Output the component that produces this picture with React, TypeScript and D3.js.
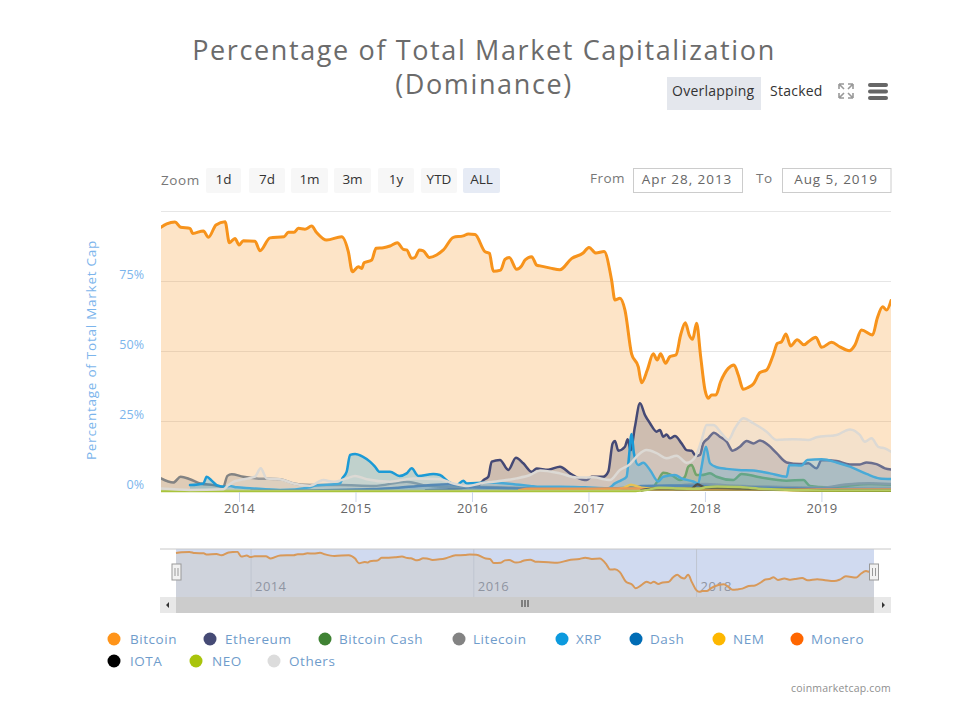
import React from "react";
import * as d3 from "d3";

type P = [number, number];

const bitcoin: P[] = [[2013.326,94.2],[2013.375,95.4],[2013.446,96.1],[2013.495,94.2],[2013.575,93.8],[2013.598,92],[2013.69,92.9],[2013.733,90.6],[2013.798,95],[2013.876,96.2],[2013.913,88.7],[2013.961,90.2],[2013.996,87.9],[2014.033,89.4],[2014.133,89.2],[2014.176,85.8],[2014.262,90.4],[2014.382,90.8],[2014.419,92.4],[2014.468,92.4],[2014.505,93.8],[2014.562,93.5],[2014.619,94.6],[2014.662,92.3],[2014.748,89.6],[2014.877,90.8],[2014.934,85.5],[2014.969,78.3],[2015.02,80.1],[2015.049,79.5],[2015.069,81.5],[2015.135,82.5],[2015.172,86.7],[2015.235,86.9],[2015.292,87.5],[2015.355,88.7],[2015.406,86.3],[2015.435,86.1],[2015.478,83.1],[2015.506,83.4],[2015.544,86.1],[2015.578,85.8],[2015.63,83.4],[2015.692,84.3],[2015.75,86.1],[2015.836,90.6],[2015.921,91.1],[2015.964,91.8],[2016.022,91.6],[2016.107,85.5],[2016.145,84.9],[2016.179,78.5],[2016.242,78.9],[2016.279,82.7],[2016.316,83.4],[2016.379,79.2],[2016.422,80.4],[2016.451,82.5],[2016.508,83.7],[2016.551,80.7],[2016.58,80.4],[2016.67,79.6],[2016.75,79],[2016.85,83],[2016.95,85],[2017.0,87],[2017.06,85],[2017.13,85.5],[2017.194,75.4],[2017.223,68.2],[2017.266,68.8],[2017.309,64.6],[2017.366,49],[2017.423,44.4],[2017.452,38.7],[2017.501,43.2],[2017.552,49],[2017.586,46.8],[2017.615,49],[2017.658,45.6],[2017.695,48],[2017.747,48.6],[2017.787,55.7],[2017.827,60.1],[2017.861,55.7],[2017.89,54.2],[2017.924,59.9],[2017.959,48],[2017.996,36.1],[2018.024,33.1],[2018.053,34.3],[2018.09,34.3],[2018.13,39],[2018.196,43.8],[2018.245,45],[2018.282,41.4],[2018.325,36.3],[2018.368,37],[2018.411,38.2],[2018.468,42.3],[2018.525,43.2],[2018.582,48.6],[2018.617,52.7],[2018.654,53.3],[2018.691,56.1],[2018.731,51.8],[2018.788,54],[2018.845,52.2],[2018.883,53.3],[2018.948,54.9],[2018.997,51.3],[2019.083,53.1],[2019.154,51.5],[2019.235,50.1],[2019.283,52.1],[2019.34,57.5],[2019.435,55.7],[2019.475,61.7],[2019.521,65.8],[2019.555,64.6],[2019.593,68]];

const ethereum: P[] = [[2015.6,0.3],[2015.9,1],[2016.05,2],[2016.094,3.9],[2016.136,5.1],[2016.165,10.5],[2016.236,11.1],[2016.308,7.5],[2016.373,11.9],[2016.436,9.9],[2016.508,6.9],[2016.551,8],[2016.65,7.6],[2016.751,8.7],[2016.837,6.3],[2016.894,4.9],[2016.98,3.9],[2017.023,5.1],[2017.123,5.1],[2017.166,6.9],[2017.203,17],[2017.223,17.9],[2017.252,14.4],[2017.309,15.8],[2017.332,18.5],[2017.358,14.6],[2017.395,23],[2017.438,31.3],[2017.481,27.1],[2017.524,24.2],[2017.581,21.2],[2017.609,21.8],[2017.638,19.4],[2017.667,20.2],[2017.695,18.8],[2017.738,19.6],[2017.795,17],[2017.838,14.6],[2017.881,14.4],[2017.918,12.5],[2017.953,12.9],[2017.981,17],[2018.024,18.8],[2018.073,20.8],[2018.124,19.4],[2018.182,17.6],[2018.233,14.4],[2018.296,15.8],[2018.353,17.9],[2018.411,17],[2018.468,18],[2018.539,16.4],[2018.611,13.5],[2018.697,10.2],[2018.811,9.6],[2018.883,9.9],[2018.954,8.1],[2018.997,11.1],[2019.126,10.7],[2019.24,9.5],[2019.326,9.5],[2019.383,10.2],[2019.469,9.6],[2019.541,8.1],[2019.593,7.7]];

const bitcoinCash: P[] = [[2017.566,2.1],[2017.595,3.9],[2017.638,6.5],[2017.709,5.7],[2017.781,3.9],[2017.824,5.1],[2017.853,8.7],[2017.881,9.3],[2017.924,5.7],[2017.967,5.7],[2018.039,6.3],[2018.096,5.1],[2018.239,3.9],[2018.31,6.1],[2018.468,4.9],[2018.697,3.7],[2018.84,3.9],[2018.897,1.8],[2019.04,1.3],[2019.211,1.8],[2019.412,2.5],[2019.593,2.2]];

const litecoin: P[] = [[2013.326,4.5],[2013.432,3],[2013.495,5.1],[2013.575,4.2],[2013.661,2.7],[2013.775,2.1],[2013.861,1.5],[2013.896,5.4],[2013.933,6],[2014.033,5.1],[2014.147,4.5],[2014.348,4.2],[2014.462,2.7],[2014.605,2.1],[2014.863,2.1],[2015.15,1.8],[2015.435,3.3],[2015.578,2.1],[2015.721,1.5],[2016.007,1.5],[2016.58,1],[2017.0,1],[2017.3,0.8],[2017.45,1.5],[2017.7,1.8],[2017.9,2.4],[2018.0,2.5],[2018.2,2],[2018.6,1.5],[2019.0,1.2],[2019.2,2.3],[2019.4,2.8],[2019.593,2.5]];

const xrp: P[] = [[2013.575,2.1],[2013.69,2.7],[2013.718,5.1],[2013.761,3.7],[2013.804,2.1],[2013.876,1.5],[2013.918,1.8],[2013.975,1.3],[2014.09,1],[2014.348,0.4],[2014.605,1.3],[2014.634,1.8],[2014.863,2.7],[2014.883,4.5],[2014.92,6.9],[2014.949,12.9],[2014.992,13.2],[2015.057,12.3],[2015.12,10.5],[2015.163,8.7],[2015.2,6.9],[2015.292,6.9],[2015.372,5.4],[2015.435,6.3],[2015.478,8.1],[2015.535,5.4],[2015.664,6.1],[2015.721,5.7],[2015.793,3.3],[2015.864,2.1],[2015.921,3.7],[2015.95,2.7],[2016.122,3],[2016.294,2.7],[2016.494,1.8],[2016.58,1.5],[2016.751,1.5],[2016.966,1.3],[2017.166,1],[2017.223,2.7],[2017.28,3.9],[2017.323,5.1],[2017.338,9.9],[2017.366,20.4],[2017.386,13.5],[2017.423,9.3],[2017.466,10.1],[2017.524,7.5],[2017.595,3.4],[2017.638,5.1],[2017.738,5.7],[2017.795,4.5],[2017.895,3.4],[2017.938,2.7],[2017.967,8.7],[2018.004,15.8],[2018.039,9.9],[2018.096,8.5],[2018.182,7.9],[2018.282,7.5],[2018.411,7.3],[2018.554,6.3],[2018.697,5.1],[2018.72,9.3],[2018.825,9.1],[2018.874,11.1],[2018.997,11.3],[2019.126,10.2],[2019.24,8.7],[2019.383,6.1],[2019.497,4.5],[2019.593,4.3]];

const dash: P[] = [[2014.1,0.1],[2014.6,0.2],[2015.0,0.5],[2015.3,1],[2015.6,2],[2015.8,2.4],[2016.0,1.3],[2016.5,0.8],[2017.0,0.6],[2017.25,1],[2017.45,1.8],[2017.7,2],[2018.0,1.8],[2018.5,1.2],[2019.0,0.8],[2019.593,0.7]];

const nem: P[] = [[2017.0,0.2],[2017.2,0.5],[2017.3,1.2],[2017.36,2.2],[2017.45,1.2],[2017.55,0.9],[2017.7,0.8],[2018.0,0.8],[2018.1,1.2],[2018.5,0.5],[2019.0,0.2],[2019.593,0.2]];

const monero: P[] = [[2016.4,0.3],[2016.5,0.8],[2017.0,0.8],[2017.4,0.9],[2017.5,0.6],[2018.0,0.6],[2019.593,0.5]];

const iota: P[] = [[2017.45,0.3],[2017.6,1],[2017.75,0.7],[2017.88,0.8],[2017.93,2.4],[2018.0,1.2],[2018.1,1.2],[2018.3,0.9],[2018.5,0.6],[2019.0,0.3],[2019.593,0.2]];

const neo: P[] = [[2013.326,0],[2017.4,0],[2017.5,0.4],[2017.6,1.2],[2017.75,0.9],[2017.95,0.8],[2018.0,1.3],[2018.1,1.6],[2018.3,1.4],[2018.5,0.7],[2019.0,0.2],[2019.593,0.2]];

const others: P[] = [[2013.326,0.9],[2013.575,0.4],[2013.861,0.6],[2013.904,2.1],[2013.947,3.3],[2014.004,3.9],[2014.133,5.1],[2014.182,8.1],[2014.233,4.5],[2014.348,4.2],[2014.462,2.7],[2014.605,1.9],[2014.72,3.9],[2014.806,3.3],[2014.92,4.5],[2014.992,5.4],[2015.092,4.2],[2015.292,3.3],[2015.492,4.5],[2015.721,4.2],[2015.836,2.7],[2015.964,1.8],[2016.064,2.7],[2016.179,3.3],[2016.379,4.5],[2016.494,5.7],[2016.58,7.3],[2016.751,6.3],[2016.894,4.8],[2017.037,4.9],[2017.18,3.9],[2017.266,7.5],[2017.352,9.6],[2017.423,12.9],[2017.495,14.6],[2017.581,13.5],[2017.667,11.7],[2017.752,12.6],[2017.838,10.1],[2017.91,12],[2017.967,18.2],[2018.01,23.6],[2018.067,23.6],[2018.139,20.6],[2018.196,18.2],[2018.253,22.4],[2018.325,26],[2018.411,24.2],[2018.525,21.2],[2018.611,18.2],[2018.754,18.5],[2018.883,18.2],[2018.954,19.2],[2019.126,20],[2019.24,22],[2019.326,20],[2019.369,17.6],[2019.426,18.8],[2019.483,15.8],[2019.541,15.2],[2019.593,14]];

const seriesNames = ["Bitcoin","Ethereum","Bitcoin Cash","Litecoin","XRP","Dash","NEM","Monero","IOTA","NEO","Others"];
const seriesValues = [bitcoin,ethereum,bitcoinCash,litecoin,xrp,dash,nem,monero,iota,neo,others];
const seriesColors = ["#f7931a","#454a75","#3f8233","#838383","#0c9ade","#006cb5","#fdb700","#ff6600","#000000","#a9c40c","#dcdcdc"];
const lineColors = ["#f7931a","#454a75","#4f9244","#838383","#1a9ad6","#2a6ea8","#e9bb2a","#f0822a","#222222","#a9c43a","#dcd9d4"];

const yTicks = [0,25,50,75];
const xTicks = [2014,2015,2016,2017,2018,2019];
const navTicks = [2014,2016,2018];
const rangeButtons = ["1d","7d","1m","3m","1y","YTD","ALL"];
const fromDate = "Apr 28, 2013";
const toDate = "Aug 5, 2019";

const legendLayout = [[114,130,639],[210,225,639],[325,339,639],[459,473,639],[562,576,639],[636,650,639],[719,733,639],[797,811,639],[114,130,661],[196,212,661],[274,289,661]];
const buttonLayout = [[206,35],[249,36],[291,37],[334,37],[378,36],[421,36],[463,37]];

const FONT = "'Open Sans', 'Noto Sans', sans-serif";

export default function App() {
  const x = d3.scaleLinear().domain([2013.326, 2019.593]).range([161, 891]);
  const y = d3.scaleLinear().domain([0, 100]).range([491, 211]);
  const nx = d3.scaleLinear().domain([2013.326, 2019.593]).range([176, 874]);
  const ny = d3.scaleLinear().domain([25, 100]).range([597, 549.4]);
  const line = d3.line<P>().x(d => x(d[0])).y(d => y(d[1])).curve(d3.curveMonotoneX);
  const area = d3.area<P>().x(d => x(d[0])).y0(y(0)).y1(d => y(d[1])).curve(d3.curveMonotoneX);
  const nLine = d3.line<P>().x(d => nx(d[0])).y(d => ny(d[1])).curve(d3.curveMonotoneX);
  const nArea = d3.area<P>().x(d => nx(d[0])).y0(597).y1(d => ny(d[1])).curve(d3.curveMonotoneX);

  return (
    <svg width={978} height={720} viewBox="0 0 978 720" style={{ position: "absolute", left: 0, top: 0, fontFamily: FONT }}>
      <rect width={978} height={720} fill="#fff" />
      <defs>
        <clipPath id="plot"><rect x={161} y={205} width={730} height={288} /></clipPath>
        <filter id="soft" x="-2%" y="-2%" width="104%" height="104%"><feGaussianBlur stdDeviation={0.4} /></filter>
      </defs>

      <text x={484} y={60} textAnchor="middle" fontSize={27} letterSpacing={1.62} fill="#6b6b6b">Percentage of Total Market Capitalization</text>
      <text x={484} y={94} textAnchor="middle" fontSize={27} letterSpacing={1.62} fill="#6b6b6b">(Dominance)</text>

      <rect x={667} y={77} width={94} height={33} fill="#e4e7ed" />
      <text x={672} y={96} fontSize={14} letterSpacing={0.25} fill="#333">Overlapping</text>
      <text x={770} y={96} fontSize={14} letterSpacing={0.25} fill="#333">Stacked</text>
      <g stroke="#999" strokeWidth={1.6} fill="none">
        <path d="M839 84l5 5M839 84h5M839 84v5M853 84l-5 5M853 84h-5M853 84v5M839 98l5-5M839 98h5M839 98v-5M853 98l-5-5M853 98h-5M853 98v-5" />
      </g>
      <g fill="#666">
        <rect x={868} y={83} width={20} height={4} rx={2} />
        <rect x={868} y={89.5} width={20} height={4} rx={2} />
        <rect x={868} y={96} width={20} height={4} rx={2} />
      </g>

      <text x={161} y={185} fontSize={13.5} letterSpacing={0.6} fill="#777">Zoom</text>
      {rangeButtons.map((b, i) => (
        <g key={b}>
          <rect x={buttonLayout[i][0]} y={168} width={buttonLayout[i][1]} height={25} rx={2} fill={b === "ALL" ? "#e6ebf5" : "#f7f7f7"} />
          <text x={buttonLayout[i][0] + buttonLayout[i][1] / 2} y={184} textAnchor="middle" fontSize={13.5} fill="#333">{b}</text>
        </g>
      ))}
      <text x={590} y={183} fontSize={13.5} letterSpacing={0.5} fill="#777">From</text>
      <rect x={633.5} y={168.5} width={109} height={24} fill="#fff" stroke="#ccc" />
      <text x={687} y={184} textAnchor="middle" fontSize={13.5} letterSpacing={0.95} fill="#666">{fromDate}</text>
      <text x={756} y={183} fontSize={13.5} letterSpacing={0.5} fill="#777">To</text>
      <rect x={782.5} y={168.5} width={108.5} height={24} fill="#fff" stroke="#ccc" />
      <text x={836} y={184} textAnchor="middle" fontSize={13.5} letterSpacing={0.95} fill="#666">{toDate}</text>

      <line x1={161} x2={891} y1={211.5} y2={211.5} stroke="#e6e6e6" />
      {yTicks.map(t => (
        <g key={t}>
          {t > 0 && <line x1={161} x2={891} y1={y(t) + 0.5} y2={y(t) + 0.5} stroke="#e6e6e6" />}
          <text x={144} y={y(t) - 2} textAnchor="end" fontSize={12.5} fill="#7cb5ec">{t}%</text>
        </g>
      ))}
      <text transform="translate(96,350) rotate(-90)" textAnchor="middle" fontSize={13.5} letterSpacing={0.75} fill="#7cb5ec">Percentage of Total Market Cap</text>

      <g clipPath="url(#plot)">
        <g filter="url(#soft)">
          {seriesValues.map((s, i) => (
            <g key={seriesNames[i]}>
              <path d={area(s) ?? ""} fill={seriesColors[i]} fillOpacity={0.25} />
              <path d={line(s) ?? ""} fill="none" stroke={lineColors[i]} strokeWidth={i === 0 ? 3 : 2.5} strokeLinejoin="round" strokeLinecap="round" />
            </g>
          ))}
        </g>
      </g>

      {xTicks.map(t => (
        <g key={t}>
          <line x1={x(t)} x2={x(t)} y1={492} y2={502} stroke="#ccd6eb" />
          <text x={x(t)} y={513} textAnchor="middle" fontSize={13} letterSpacing={0.3} fill="#666">{t}</text>
        </g>
      ))}

      <rect x={176} y={549} width={698} height={48} fill="#d0daf0" />
      <path d={nArea(bitcoin) ?? ""} fill="#cfd3dc" />
      {navTicks.map(t => (
        <g key={t}>
          <line x1={nx(t)} x2={nx(t)} y1={549} y2={597} stroke="#bfc5d0" />
          <text x={nx(t) + 4} y={591} fontSize={13} letterSpacing={0.4} fill="#8f95a2">{t}</text>
        </g>
      ))}
      <path d={nLine(bitcoin) ?? ""} fill="none" stroke="#d8995a" strokeWidth={2} filter="url(#soft)" />
      <line x1={160} x2={891} y1={549} y2={549} stroke="#c8c8c8" />

      <rect x={160} y={597} width={731} height={16} fill="#e8e8e8" />
      <rect x={176} y={597} width={698} height={16} fill="#cccccc" />
      <path d="M522 600v7M525 600v7M528 600v7" stroke="#333" strokeWidth={1} />
      <path d="M166 605l3-3v6zM885 605l-3-3v6z" fill="#333" />
      {[176.5, 874].map(hx => (
        <g key={hx}>
          <rect x={hx - 4.5} y={564} width={9} height={16} fill="#f2f2f2" stroke="#999" />
          <path d={`M${hx - 1.5} 568v8M${hx + 1.5} 568v8`} stroke="#999" />
        </g>
      ))}

      {seriesNames.map((n, i) => (
        <g key={n}>
          <circle cx={legendLayout[i][0]} cy={legendLayout[i][2]} r={6.5} fill={i === 0 ? "#ff9419" : seriesColors[i]} />
          <text x={legendLayout[i][1]} y={legendLayout[i][2] + 5} fontSize={13.5} letterSpacing={0.55} fill="#6f9ccb">{n}</text>
        </g>
      ))}
      <text x={891} y={692} textAnchor="end" fontSize={10.5} letterSpacing={0.2} fill="#8f8f8f">coinmarketcap.com</text>
    </svg>
  );
}
